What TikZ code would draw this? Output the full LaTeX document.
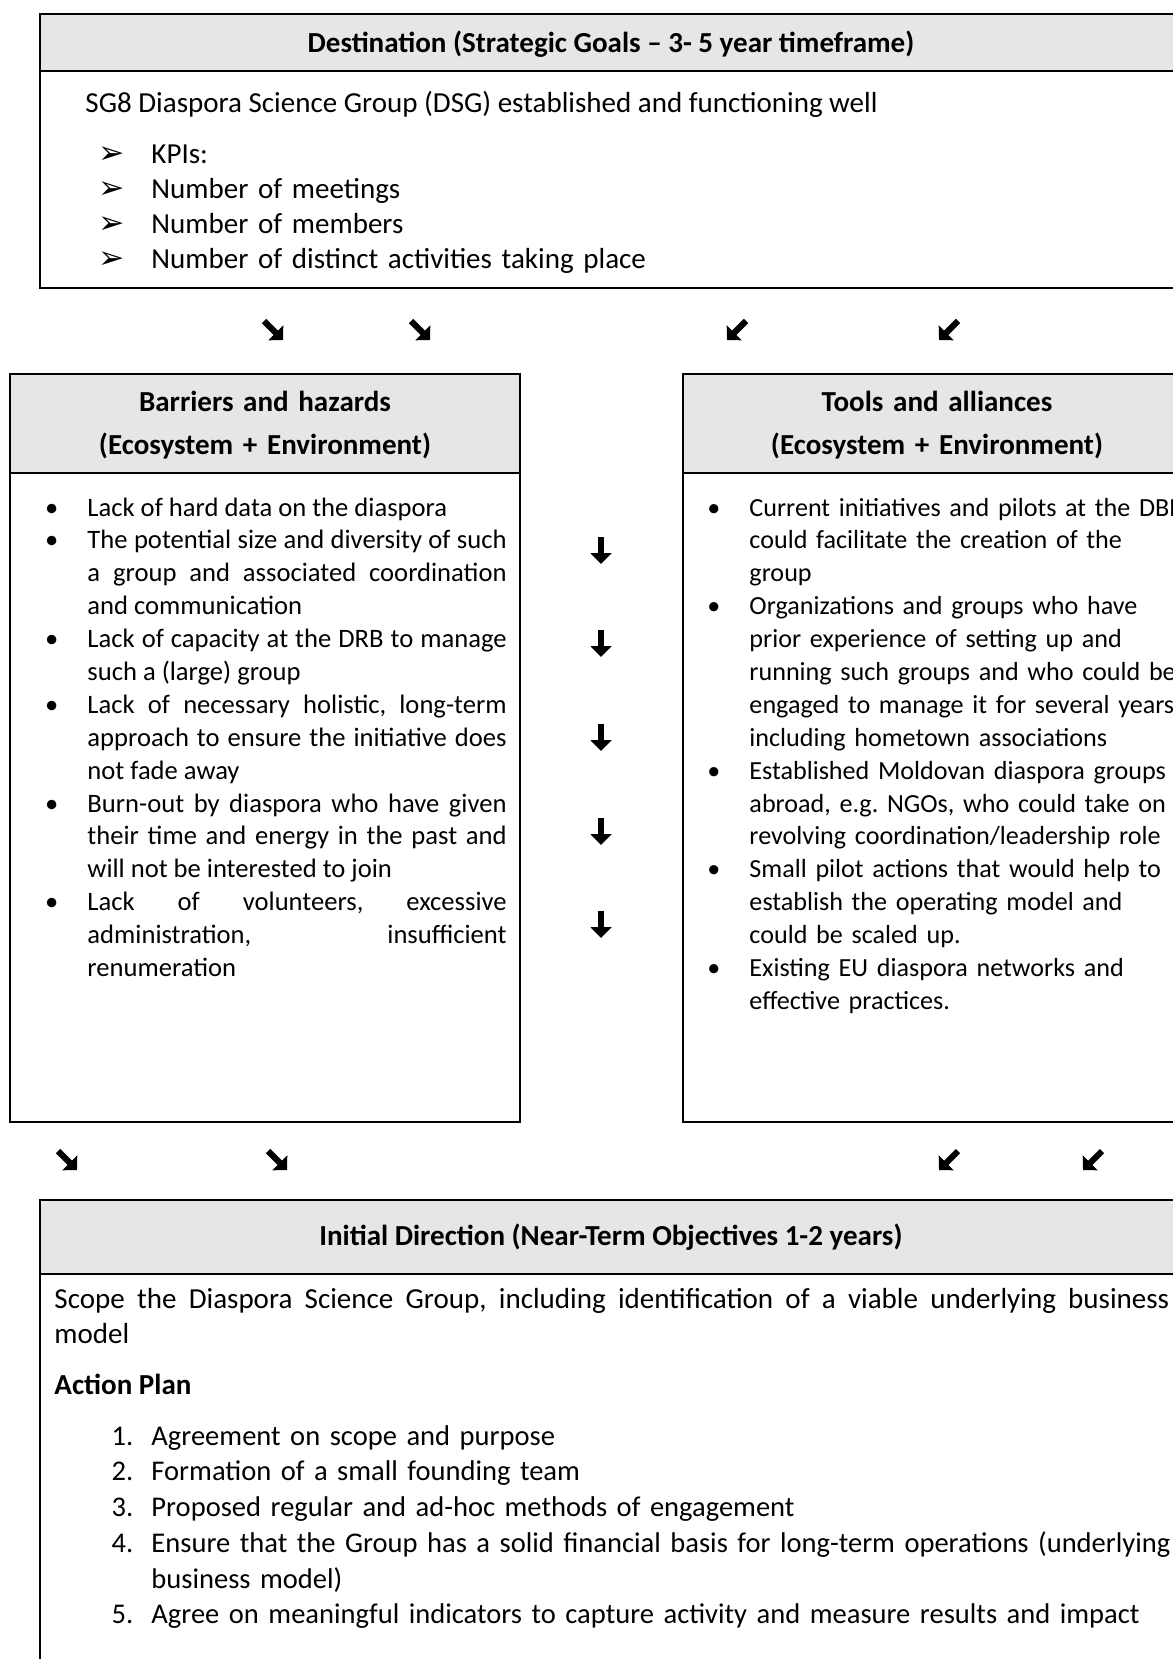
\documentclass[tikz,border=0pt]{standalone}
\usepackage{fontspec}
\setmainfont{Carlito}
\newfontfamily\dejavu{DejaVu Sans}
\usepackage{xcolor}
\usetikzlibrary{arrows.meta}
\definecolor{hdrgray}{HTML}{E7E6E6}
\newcommand{\itm}{\leavevmode\llap{\textbullet\hspace{12pt}}}
\newcommand{\kpi}{\leavevmode\llap{{\dejavu\fontsize{13}{13}\selectfont ➢}\hspace{11pt}}}
\newcommand{\stp}[1]{\leavevmode\llap{\makebox[16.5pt][l]{#1.}}}
\newcommand{\tight}{\hyphenpenalty=10000\exhyphenpenalty=10000\tolerance=9999\hbadness=10000}

\begin{document}
\frenchspacing
\begin{tikzpicture}[x=0.4135pt, y=-0.4135pt,
  frame/.style={draw=black, line width=0.9pt},
  hdr/.style={frame, fill=hdrgray},
  ttl/.style={anchor=base, inner sep=0pt, font=\bfseries\fontsize{12}{14.6}\selectfont},
  big/.style={anchor=base west, inner sep=0pt, font=\fontsize{12}{14.6}\selectfont},
  lst/.style={anchor=base west, inner sep=0pt, font=\fontsize{11}{13.6}\selectfont},
  glyph/.style={line width=2.5pt, -{Triangle[length=4.2pt,width=8.5pt]}},
  drop/.style={line width=2.6pt, -{Triangle[length=4.5pt,width=8.5pt]}}]
  \useasboundingbox (0,0) rectangle (1173,1659);
  \fill[white] (0,0) rectangle (1173,1659);
  \clip (0,0) rectangle (1173,1659);

  \filldraw[hdr] (40,14) rectangle (1182,71);
  \draw[frame] (40,14) rectangle (1182,288);
  \node[ttl] (dst) at (611,52) {Destination (Strategic Goals – 3- 5 year timeframe)};
  \node[big] (goal) at (85,112) {SG8 Diaspora Science Group (DSG) established and functioning well};
  \node[big, text width=320pt, align=left] (kpis) at (151,163)
    {\kpi KPIs:\\ \kpi Number of meetings\\ \kpi Number of members\\ \kpi Number of distinct activities taking place};

  \foreach \x in {273,420} \draw[glyph] (\x-9,321) -- (\x+10,340);
  \foreach \x in {737,949} \draw[glyph] (\x+9,321) -- (\x-10,340);

  \filldraw[hdr] (10,374) rectangle (520,473);
  \draw[frame] (10,374) rectangle (520,1122);
  \node[ttl, text width=200pt, align=center, font=\bfseries\fontsize{12}{17.8}\selectfont] (bar) at (265,411)
    {Barriers and hazards\\(Ecosystem + Environment)};
  \node[lst, text width=173.3pt, align=justify] (barlist) at (87,516)
    {\tight
     \itm Lack of hard data on the diaspora\par
     \itm The potential size and diversity of such\linebreak a group and associated coordination\linebreak and communication\par
     \itm Lack of capacity at the DRB to manage\linebreak such a (large) group\par
     \itm Lack of necessary holistic, long-term\linebreak approach to ensure the initiative does\linebreak not fade away\par
     \itm Burn-out by diaspora who have given\linebreak their time and energy in the past and\linebreak will not be interested to join\par
     \itm Lack of volunteers, excessive\linebreak administration, insufficient\linebreak renumeration};

  \foreach \y in {551,644,738,832,925} \draw[drop] (601,\y-14) -- (601,\y+13);

  \filldraw[hdr] (683,374) rectangle (1191,473);
  \draw[frame] (683,374) rectangle (1191,1122);
  \node[ttl, text width=200pt, align=center, font=\bfseries\fontsize{12}{17.8}\selectfont] (tools) at (937,411)
    {Tools and alliances\\(Ecosystem + Environment)};
  \node[lst, text width=200pt, align=left, font=\fontsize{10.8}{13.6}\selectfont] (toollist) at (749,516)
    {\itm Current initiatives and pilots at the DBR\\could facilitate the creation of the\\group\par
     \itm Organizations and groups who have\\prior experience of setting up and\\running such groups and who could be\\engaged to manage it for several years,\\including hometown associations\par
     \itm Established Moldovan diaspora groups\\abroad, e.g. NGOs, who could take on a\\revolving coordination/leadership role\par
     \itm Small pilot actions that would help to\\establish the operating model and\\could be scaled up.\par
     \itm Existing EU diaspora networks and\\effective practices.};

  \foreach \x in {67,277} \draw[glyph] (\x-9,1151) -- (\x+10,1170);
  \foreach \x in {949,1093} \draw[glyph] (\x+9,1151) -- (\x-10,1170);

  \filldraw[hdr] (40,1200) rectangle (1182,1274);
  \draw[frame] (40,1200) rectangle (1182,1700);
  \node[ttl] (dir) at (611,1245) {Initial Direction (Near-Term Objectives 1-2 years)};
  \node[big, text width=461pt, align=justify] (scope) at (54,1308)
    {\tight Scope the Diaspora Science Group, including identification of a viable underlying business\linebreak model};
  \node[big, font=\bfseries\fontsize{12}{14.6}\selectfont] (plan) at (54,1394) {Action Plan};
  \node[big, text width=440pt, align=left, font=\fontsize{11.8}{14.8}\selectfont] (steps) at (151,1445)
    {\stp{1}Agreement on scope and purpose\par
     \stp{2}Formation of a small founding team\par
     \stp{3}Proposed regular and ad-hoc methods of engagement\par
     \stp{4}Ensure that the Group has a solid financial basis for long-term operations (underlying\\business model)\par
     \stp{5}Agree on meaningful indicators to capture activity and measure results and impact};
\end{tikzpicture}
\end{document}
